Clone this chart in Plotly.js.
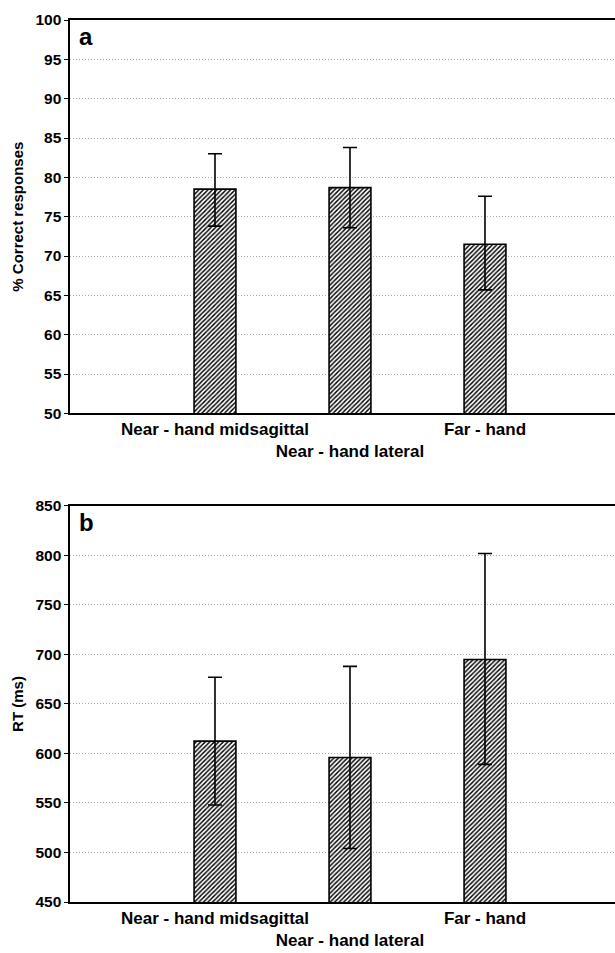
<!DOCTYPE html>
<html>
<head>
<meta charset="utf-8">
<script src="https://cdn.plot.ly/plotly-3.0.1.min.js"></script>
<style>html,body{margin:0;padding:0;background:#fff;}#chart{width:615px;height:953px;}</style>
</head>
<body>
<div id="chart"></div>
<script>
// Categories and tick labels
const categories = ['Near - hand midsagittal', 'Near - hand lateral', 'Far - hand'];
const tickLabels = ['Near - hand midsagittal', '<br>Near - hand lateral', 'Far - hand'];

// Panel a: % correct responses
const correctMean = [78.5, 78.7, 71.5];
const correctErrPlus = [4.5, 5.1, 6.1];
const correctErrMinus = [4.7, 5.1, 5.8];
const correctTicks = [50, 55, 60, 65, 70, 75, 80, 85, 90, 95, 100];

// Panel b: RT (ms)
const rtMean = [612.5, 596, 695];
const rtErrPlus = [64.5, 92, 107];
const rtErrMinus = [64.5, 92, 106];
const rtTicks = [450, 500, 550, 600, 650, 700, 750, 800, 850];

const FONT = 'Liberation Sans, Arial, sans-serif';

function barTrace(y, plus, minus, xa, ya) {
  return {
    type: 'bar', x: categories, y: y, xaxis: xa, yaxis: ya,
    width: 0.31,
    marker: {
      color: '#ffffff',
      line: {color: '#000000', width: 1.6},
      pattern: {shape: '/', fgcolor: '#000000', bgcolor: '#ffffff', size: 3.2, solidity: 0.45}
    },
    error_y: {type: 'data', symmetric: false, array: plus, arrayminus: minus,
      color: '#000000', thickness: 1.6, width: 7},
    showlegend: false, hoverinfo: 'none'
  };
}

const xCommon = {
  type: 'category', range: [-1.074, 2.963],
  tickvals: categories, ticktext: tickLabels, tickangle: 0,
  tickfont: {family: FONT, size: 17, color: '#000', weight: 700},
  showline: true, linecolor: '#000', linewidth: 1.6, mirror: true,
  ticks: '', showgrid: false, zeroline: false, fixedrange: true
};
const yCommon = {
  tickfont: {family: FONT, size: 15.5, color: '#000', weight: 700},
  showline: true, linecolor: '#000', linewidth: 1.6, mirror: false,
  ticks: 'outside', ticklen: 4, tickcolor: '#000', tickwidth: 1,
  showgrid: true, gridcolor: '#9a9a9a', gridwidth: 0.8, griddash: '1px,2px',
  zeroline: false, fixedrange: true
};

const layout = {
  width: 615, height: 953,
  margin: {l: 70, r: 0, t: 20, b: 51},
  paper_bgcolor: '#fff', plot_bgcolor: '#fff',
  bargap: 0,
  xaxis: Object.assign({}, xCommon, {anchor: 'y', domain: [0, 1]}),
  yaxis: Object.assign({}, yCommon, {
    anchor: 'x', domain: [0.554, 1], range: [50, 100], tickvals: correctTicks,
    title: {text: '% Correct responses', font: {family: FONT, size: 15, color: '#000', weight: 700}, standoff: 8}
  }),
  xaxis2: Object.assign({}, xCommon, {anchor: 'y2', domain: [0, 1]}),
  yaxis2: Object.assign({}, yCommon, {
    anchor: 'x2', domain: [0, 0.449], range: [450, 850], tickvals: rtTicks,
    title: {text: 'RT (ms)', font: {family: FONT, size: 15, color: '#000', weight: 700}, standoff: 8}
  }),
  annotations: [
    {text: 'a', xref: 'paper', yref: 'paper', x: 0.012, y: 0.999, xanchor: 'left', yanchor: 'top',
     showarrow: false, font: {family: FONT, size: 24, color: '#000', weight: 700}},
    {text: 'b', xref: 'paper', yref: 'paper', x: 0.012, y: 0.448, xanchor: 'left', yanchor: 'top',
     showarrow: false, font: {family: FONT, size: 24, color: '#000', weight: 700}}
  ]
};

Plotly.newPlot('chart', [
  barTrace(correctMean, correctErrPlus, correctErrMinus, 'x', 'y'),
  barTrace(rtMean, rtErrPlus, rtErrMinus, 'x2', 'y2')
], layout, {displayModeBar: false, staticPlot: true});
</script>
</body>
</html>
